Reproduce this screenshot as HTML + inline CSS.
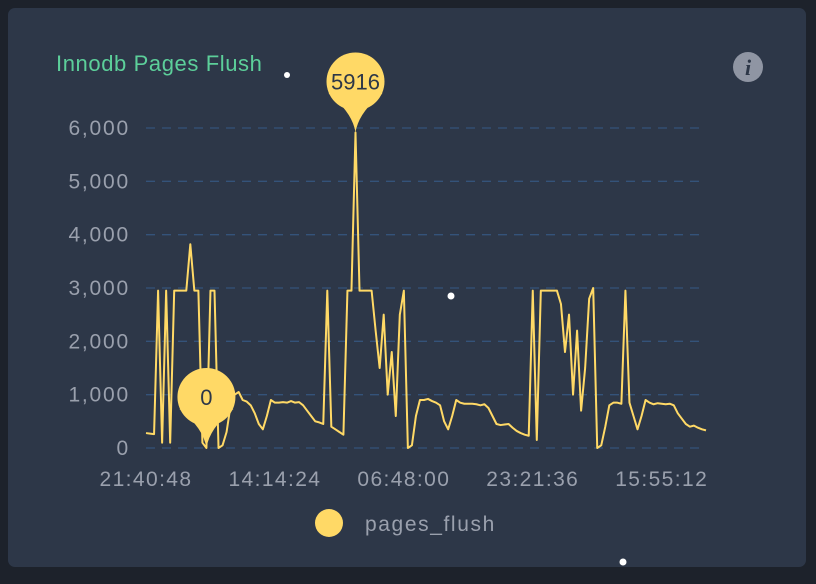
<!DOCTYPE html>
<html><head><meta charset="utf-8"><style>
body{margin:0;width:816px;height:584px;background:#1d222b;overflow:hidden;font-family:"Liberation Sans",sans-serif}
#card{position:absolute;left:8px;top:8px;width:798px;height:559px;background:#2d3748;border-radius:7px}
</style></head><body>
<div id="card"></div>
<svg width="816" height="584" style="position:absolute;left:0;top:0" id="svg">
<text x="56" y="71" font-size="22" letter-spacing="0.6" fill="#5ccf9a">Innodb Pages Flush</text>
<g><circle cx="748" cy="67" r="15" fill="#8f95a3"/><text x="748" y="75" font-size="22" font-style="italic" font-weight="bold" font-family="Liberation Serif,serif" fill="#2d3748" text-anchor="middle">i</text></g>
<circle cx="287" cy="75" r="3" fill="#fff"/>
<circle cx="451" cy="296" r="3.5" fill="#fff"/>
<circle cx="623" cy="562" r="3.5" fill="#fff"/>
<g id="grid"></g><g id="yl"></g><g id="xl"></g><g id="series"></g><g id="pins"></g>
<g><circle cx="329" cy="523" r="14" fill="#ffd966"/><text x="365" y="531" font-size="21" letter-spacing="1.6" fill="#9aa0ad">pages_flush</text></g>
</svg>
<script>
const yTicks=[0,1000,2000,3000,4000,5000,6000];
const yTickLabels=["0","1,000","2,000","3,000","4,000","5,000","6,000"];
const xTickIdx=[0,32,64,96,128];
const xTickLabels=["21:40:48","14:14:24","06:48:00","23:21:36","15:55:12"];
const values=[280,270,260,2950,100,2950,100,2950,2950,2950,2950,3820,2950,2950,100,0,2950,2950,0,50,
300,800,1000,1050,900,870,800,650,450,350,600,900,850,850,860,850,880,850,860,800,
700,600,500,480,450,2950,400,350,300,250,2950,2950,5916,2950,2950,2950,2950,2200,1500,2500,
1000,1800,600,2500,2950,0,50,600,900,900,920,880,850,800,500,350,600,900,850,830,
830,830,820,800,820,750,600,450,430,440,450,380,320,280,250,230,2950,150,2950,2950,
2950,2950,2950,2700,1800,2500,1000,2200,700,1500,2800,3000,0,50,400,800,850,850,830,2950,
850,600,350,600,900,850,820,840,830,820,830,800,650,550,450,400,420,380,350,330];
const X0=146,X1=706,Y0=448,Y1=128,YMAX=6000;
const sx=i=>X0+i*(X1-X0)/(values.length-1);
const sy=v=>Y0-(v/YMAX)*(Y0-Y1);
const NS="http://www.w3.org/2000/svg";
function mk(t,a,p){const e=document.createElementNS(NS,t);for(const k in a)e.setAttribute(k,a[k]);p.appendChild(e);return e;}
const grid=document.getElementById('grid'),yl=document.getElementById('yl'),xl=document.getElementById('xl');
yTicks.forEach((v,i)=>{
 const l=mk('line',{x1:146,x2:700,y1:sy(v),y2:sy(v),stroke:'#34537a','stroke-width':1.3,'stroke-dasharray':'9,7'},grid);
 
 
 const t=mk('text',{x:130,y:sy(v)+7,'font-size':21,'letter-spacing':1.8,fill:'#9aa0ad','text-anchor':'end'},yl);t.textContent=yTickLabels[i];
 
 
});
xTickIdx.forEach((ix,i)=>{
 const t=mk('text',{x:sx(ix),y:486,'font-size':21,'letter-spacing':1.4,fill:'#9aa0ad','text-anchor':'middle'},xl);t.textContent=xTickLabels[i];
 
 
});
const p=mk('polyline',{points:values.map((v,i)=>sx(i)+','+sy(v)).join(' '),fill:'none',stroke:'#ffd966','stroke-width':2,'stroke-linejoin':'round'},document.getElementById('series'));


function pin(i,label,name){
 const x=sx(i),y=sy(values[i]),cy=y-51,r=29;
 const g=mk('g',{},document.getElementById('pins'));
 
 
 mk('path',{d:`M${x-r+2},${cy+12} Q${x-3},${y-20} ${x},${y} Q${x+3},${y-20} ${x+r-2},${cy+12} Z`,fill:'#ffd966'},g);
 mk('circle',{cx:x,cy:cy,r:r,fill:'#ffd966'},g);
 const t=mk('text',{x:x,y:cy+8,'font-size':22,fill:'#2d3748','text-anchor':'middle'},g);t.textContent=label;
}
let mx=0,mn=0;values.forEach((v,i)=>{if(v>values[mx])mx=i;if(v<values[mn])mn=i;});
pin(mx,String(values[mx]),'max-marker');
pin(mn,String(values[mn]),'min-marker');
</script>
</body></html>
